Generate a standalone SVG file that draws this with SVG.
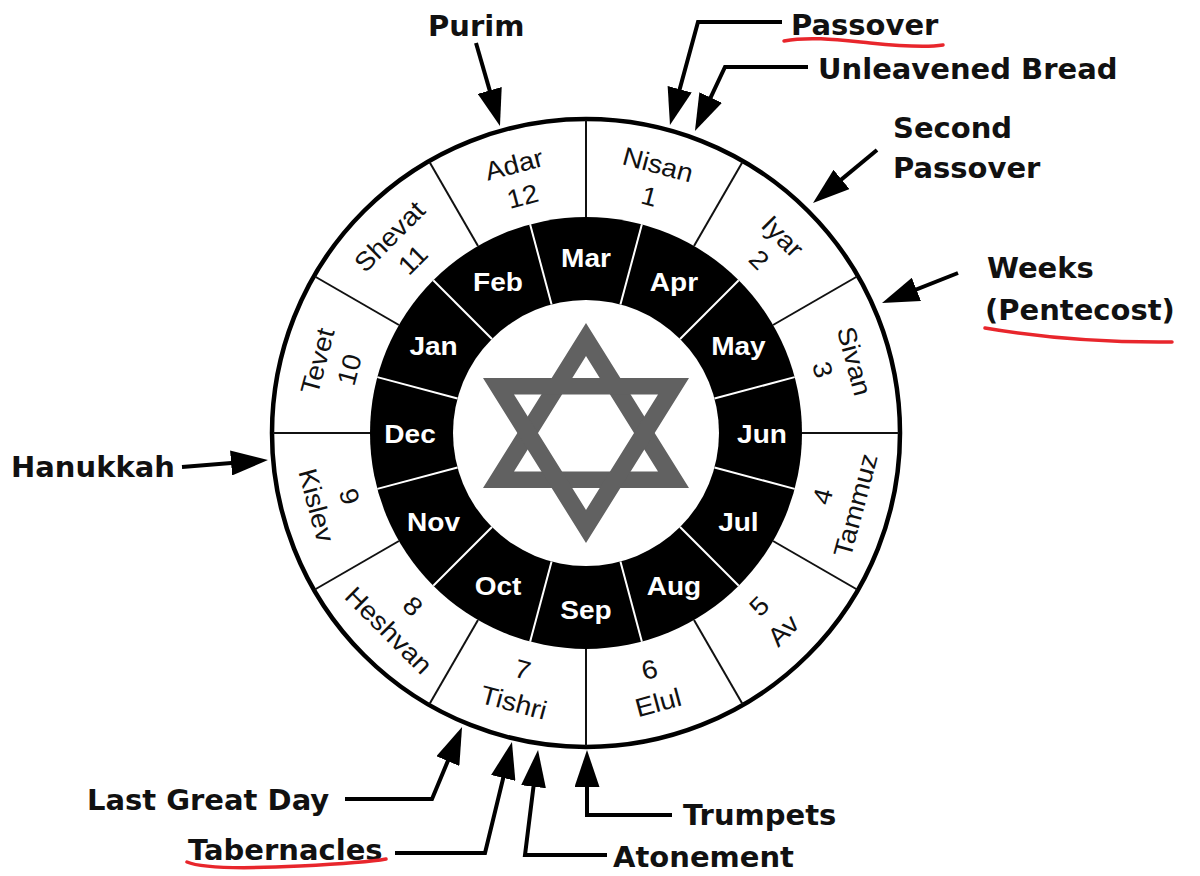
<svg xmlns="http://www.w3.org/2000/svg" width="1200" height="876" viewBox="0 0 1200 876">
<defs>
<style>
.hm{font-family:"Liberation Sans",Arial,sans-serif;font-size:26px;fill:#111;text-anchor:middle}
.gm{font-family:"Liberation Sans",Arial,sans-serif;font-size:25.5px;font-weight:bold;fill:#fff;text-anchor:middle}
.ev{font-family:"DejaVu Sans",Verdana,sans-serif;font-size:29px;font-weight:bold;fill:#111}
.sep{stroke:#111;stroke-width:2}
.wsep{stroke:#fff;stroke-width:2}
.arr{fill:none;stroke:#000;stroke-width:4;marker-end:url(#ah)}
.ul{fill:none;stroke:#e8262c;stroke-width:3.5;stroke-linecap:round}
</style>
<marker id="ah" markerUnits="userSpaceOnUse" viewBox="0 0 37 25" refX="27" refY="12.5" markerWidth="37" markerHeight="25" orient="auto">
<path d="M0,0 L37,12.5 L0,25 Z" fill="#000"/>
</marker>
</defs>
<rect width="1200" height="876" fill="#fff"/>

<g id="wheel">
<circle cx="586" cy="433" r="314" fill="#fff" stroke="#000" stroke-width="4.5"/>
<circle cx="586" cy="433" r="216" fill="#000"/>
<circle cx="586" cy="433" r="133" fill="#fff"/>
<g transform="translate(586,433)">
<line class="sep" x1="0" y1="-216" x2="0" y2="-313" transform="rotate(0)"/>
<line class="sep" x1="0" y1="-216" x2="0" y2="-313" transform="rotate(30)"/>
<line class="sep" x1="0" y1="-216" x2="0" y2="-313" transform="rotate(60)"/>
<line class="sep" x1="0" y1="-216" x2="0" y2="-313" transform="rotate(90)"/>
<line class="sep" x1="0" y1="-216" x2="0" y2="-313" transform="rotate(120)"/>
<line class="sep" x1="0" y1="-216" x2="0" y2="-313" transform="rotate(150)"/>
<line class="sep" x1="0" y1="-216" x2="0" y2="-313" transform="rotate(180)"/>
<line class="sep" x1="0" y1="-216" x2="0" y2="-313" transform="rotate(210)"/>
<line class="sep" x1="0" y1="-216" x2="0" y2="-313" transform="rotate(240)"/>
<line class="sep" x1="0" y1="-216" x2="0" y2="-313" transform="rotate(270)"/>
<line class="sep" x1="0" y1="-216" x2="0" y2="-313" transform="rotate(300)"/>
<line class="sep" x1="0" y1="-216" x2="0" y2="-313" transform="rotate(330)"/>
<line class="wsep" x1="0" y1="-133" x2="0" y2="-216" transform="rotate(15)"/>
<line class="wsep" x1="0" y1="-133" x2="0" y2="-216" transform="rotate(45)"/>
<line class="wsep" x1="0" y1="-133" x2="0" y2="-216" transform="rotate(75)"/>
<line class="wsep" x1="0" y1="-133" x2="0" y2="-216" transform="rotate(105)"/>
<line class="wsep" x1="0" y1="-133" x2="0" y2="-216" transform="rotate(135)"/>
<line class="wsep" x1="0" y1="-133" x2="0" y2="-216" transform="rotate(165)"/>
<line class="wsep" x1="0" y1="-133" x2="0" y2="-216" transform="rotate(195)"/>
<line class="wsep" x1="0" y1="-133" x2="0" y2="-216" transform="rotate(225)"/>
<line class="wsep" x1="0" y1="-133" x2="0" y2="-216" transform="rotate(255)"/>
<line class="wsep" x1="0" y1="-133" x2="0" y2="-216" transform="rotate(285)"/>
<line class="wsep" x1="0" y1="-133" x2="0" y2="-216" transform="rotate(315)"/>
<line class="wsep" x1="0" y1="-133" x2="0" y2="-216" transform="rotate(345)"/>
</g>
</g>

<g id="star" fill="#616161" fill-rule="evenodd">
<path d="M586,323 L689,488 L483,488 Z M586,356 L514,471.5 L658,471.5 Z"/>
<path d="M586,543 L483,378 L689,378 Z M586,510 L658,394.5 L514,394.5 Z"/>
</g>

<g id="hebrew-months">
<g id="m-nisan" transform="translate(586,433) rotate(15)"><text class="hm" y="-269" transform="scale(1.08,1)">Nisan</text><text class="hm" y="-236" transform="scale(1.08,1)">1</text></g>
<g id="m-iyar" transform="translate(586,433) rotate(45)"><text class="hm" y="-269" transform="scale(1.08,1)">Iyar</text><text class="hm" y="-236" transform="scale(1.08,1)">2</text></g>
<g id="m-sivan" transform="translate(586,433) rotate(75)"><text class="hm" y="-269" transform="scale(1.08,1)">Sivan</text><text class="hm" y="-236" transform="scale(1.08,1)">3</text></g>
<g id="m-tammuz" transform="translate(586,433) rotate(-75)"><text class="hm" y="254" transform="scale(1.08,1)">4</text><text class="hm" y="288" transform="scale(1.08,1)">Tammuz</text></g>
<g id="m-av" transform="translate(586,433) rotate(-45)"><text class="hm" y="254" transform="scale(1.08,1)">5</text><text class="hm" y="288" transform="scale(1.08,1)">Av</text></g>
<g id="m-elul" transform="translate(586,433) rotate(-15)"><text class="hm" y="254" transform="scale(1.08,1)">6</text><text class="hm" y="288" transform="scale(1.08,1)">Elul</text></g>
<g id="m-tishri" transform="translate(586,433) rotate(15)"><text class="hm" y="254" transform="scale(1.08,1)">7</text><text class="hm" y="288" transform="scale(1.08,1)">Tishri</text></g>
<g id="m-heshvan" transform="translate(586,433) rotate(45)"><text class="hm" y="254" transform="scale(1.08,1)">8</text><text class="hm" y="288" transform="scale(1.08,1)">Heshvan</text></g>
<g id="m-kislev" transform="translate(586,433) rotate(75)"><text class="hm" y="254" transform="scale(1.08,1)">9</text><text class="hm" y="288" transform="scale(1.08,1)">Kislev</text></g>
<g id="m-tevet" transform="translate(586,433) rotate(-75)"><text class="hm" y="-269" transform="scale(1.08,1)">Tevet</text><text class="hm" y="-236" transform="scale(1.08,1)">10</text></g>
<g id="m-shevat" transform="translate(586,433) rotate(-45)"><text class="hm" y="-269" transform="scale(1.08,1)">Shevat</text><text class="hm" y="-236" transform="scale(1.08,1)">11</text></g>
<g id="m-adar" transform="translate(586,433) rotate(-15)"><text class="hm" y="-269" transform="scale(1.08,1)">Adar</text><text class="hm" y="-236" transform="scale(1.08,1)">12</text></g>
</g>

<g id="gregorian-months">
<g id="g-mar" transform="translate(586,267)"><text class="gm" transform="scale(1.1,1)">Mar</text></g>
<g id="g-apr" transform="translate(674,290.6)"><text class="gm" transform="scale(1.1,1)">Apr</text></g>
<g id="g-may" transform="translate(738.4,355)"><text class="gm" transform="scale(1.1,1)">May</text></g>
<g id="g-jun" transform="translate(762,443)"><text class="gm" transform="scale(1.1,1)">Jun</text></g>
<g id="g-jul" transform="translate(738.4,531)"><text class="gm" transform="scale(1.1,1)">Jul</text></g>
<g id="g-aug" transform="translate(674,595.4)"><text class="gm" transform="scale(1.1,1)">Aug</text></g>
<g id="g-sep" transform="translate(586,619)"><text class="gm" transform="scale(1.1,1)">Sep</text></g>
<g id="g-oct" transform="translate(498,595.4)"><text class="gm" transform="scale(1.1,1)">Oct</text></g>
<g id="g-nov" transform="translate(433.6,531)"><text class="gm" transform="scale(1.1,1)">Nov</text></g>
<g id="g-dec" transform="translate(410,443)"><text class="gm" transform="scale(1.1,1)">Dec</text></g>
<g id="g-jan" transform="translate(433.6,355)"><text class="gm" transform="scale(1.1,1)">Jan</text></g>
<g id="g-feb" transform="translate(498,290.6)"><text class="gm" transform="scale(1.1,1)">Feb</text></g>
</g>

<g id="connectors">
<path class="arr" d="M476,43 L497.2,116.4"/>
<path class="arr" d="M782,22 L698,22 L672.6,115.3"/>
<path class="arr" d="M808,67 L725,67 L699.2,121.9"/>
<path class="arr" d="M877,150 L820.7,196.6"/>
<path class="arr" d="M958,273 L891.3,299.3"/>
<path class="arr" d="M182,467 L258,460.8"/>
<path class="arr" d="M345,799 L432,799 L458.2,736.2"/>
<path class="arr" d="M395,853 L485,853 L509.6,751.7"/>
<path class="arr" d="M607,855 L525,855 L536.8,759.9"/>
<path class="arr" d="M672,815 L587,815 L587,760"/>
</g>

<g id="ev-purim"><text class="ev" x="428" y="36">Purim</text></g>
<g id="ev-passover"><text class="ev" x="791" y="35">Passover</text></g>
<g id="ev-unleavened"><text class="ev" x="818" y="79">Unleavened Bread</text></g>
<g id="ev-second-passover"><text class="ev" x="893" y="138">Second</text><text class="ev" x="893" y="178">Passover</text></g>
<g id="ev-weeks"><text class="ev" x="987" y="278">Weeks</text><text class="ev" x="985" y="320">(Pentecost)</text></g>
<g id="ev-hanukkah"><text class="ev" x="11" y="477">Hanukkah</text></g>
<g id="ev-last-great-day"><text class="ev" x="87" y="810">Last Great Day</text></g>
<g id="ev-tabernacles"><text class="ev" x="188" y="860">Tabernacles</text></g>
<g id="ev-atonement"><text class="ev" x="613" y="867">Atonement</text></g>
<g id="ev-trumpets"><text class="ev" x="683" y="825">Trumpets</text></g>

<g id="underlines">
<path class="ul" d="M784,41 C810,36 840,40 870,43 S930,47 943,45"/>
<path class="ul" d="M985,328 C1020,334 1080,343 1172,342"/>
<path class="ul" d="M187,862 C205,870 260,868 300,866 S370,862 386,859"/>
</g>
</svg>
